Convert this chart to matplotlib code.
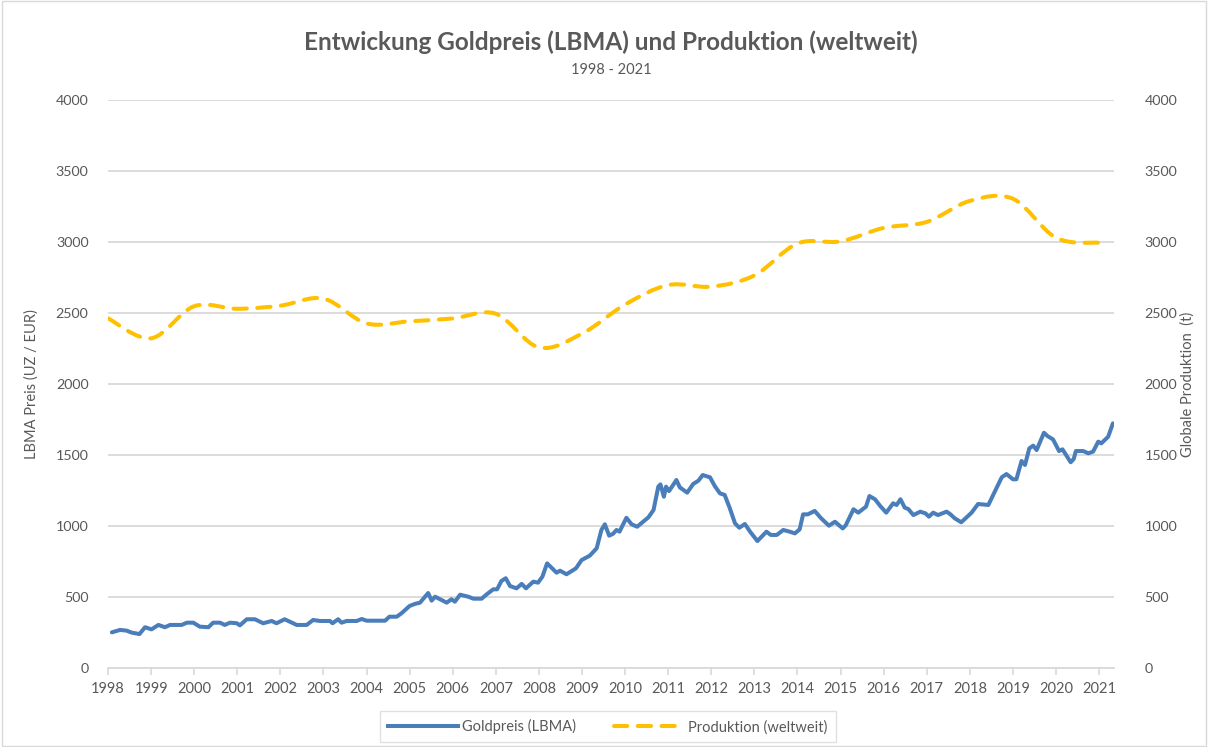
import numpy as np
import matplotlib.pyplot as plt
from matplotlib.path import Path
from matplotlib.patches import PathPatch, Rectangle
from matplotlib.lines import Line2D

plt.rcParams['font.family'] = ['Lato', 'DejaVu Sans']

# Goldpreis (LBMA), EUR je Unze
gold_years = [
    1998.09, 1998.28, 1998.43, 1998.55, 1998.73, 1998.86, 1999.01, 1999.17, 1999.32, 1999.44,
    1999.71, 1999.83, 1999.98, 2000.13, 2000.33, 2000.44, 2000.60, 2000.71, 2000.83, 2000.99,
    2001.06, 2001.22, 2001.41, 2001.60, 2001.80, 2001.91, 2002.10, 2002.38, 2002.61, 2002.76,
    2002.92, 2003.15, 2003.21, 2003.34, 2003.42, 2003.54, 2003.77, 2003.89, 2004.00, 2004.43,
    2004.53, 2004.70, 2004.81, 2005.00, 2005.12, 2005.24, 2005.43, 2005.51, 2005.59, 2005.86,
    2005.97, 2006.05, 2006.17, 2006.36, 2006.48, 2006.67, 2006.79, 2006.94, 2007.03, 2007.13,
    2007.23, 2007.33, 2007.48, 2007.60, 2007.70, 2007.87, 2007.98, 2008.08, 2008.19, 2008.41,
    2008.49, 2008.64, 2008.86, 2008.99, 2009.18, 2009.34, 2009.45, 2009.53, 2009.63, 2009.72,
    2009.80, 2009.87, 2010.03, 2010.15, 2010.28, 2010.38, 2010.54, 2010.66, 2010.77, 2010.82,
    2010.90, 2010.95, 2011.02, 2011.19, 2011.27, 2011.44, 2011.58, 2011.70, 2011.80, 2011.97,
    2012.08, 2012.20, 2012.31, 2012.43, 2012.55, 2012.65, 2012.78, 2012.90, 2013.07, 2013.28,
    2013.38, 2013.52, 2013.67, 2013.82, 2013.94, 2014.05, 2014.13, 2014.24, 2014.40, 2014.55,
    2014.73, 2014.87, 2015.05, 2015.12, 2015.30, 2015.41, 2015.59, 2015.67, 2015.80, 2015.92,
    2016.06, 2016.22, 2016.30, 2016.39, 2016.49, 2016.57, 2016.69, 2016.85, 2016.97, 2017.05,
    2017.15, 2017.26, 2017.46, 2017.55, 2017.65, 2017.80, 2018.04, 2018.19, 2018.43, 2018.54,
    2018.74, 2018.85, 2019.00, 2019.08, 2019.20, 2019.28, 2019.38, 2019.47, 2019.55, 2019.72,
    2019.80, 2019.93, 2020.07, 2020.15, 2020.34, 2020.41, 2020.46, 2020.63, 2020.75, 2020.86,
    2020.98, 2021.05, 2021.21, 2021.32,
]
gold_price = [
    251, 268, 263, 249, 239, 287, 272, 303, 287, 303,
    303, 319, 319, 291, 287, 319, 319, 303, 319, 315,
    300, 343, 343, 315, 331, 315, 343, 303, 303, 338,
    331, 331, 315, 343, 319, 331, 331, 345, 333, 333,
    361, 361, 385, 437, 451, 460, 528, 474, 502, 460,
    484, 467, 516, 502, 488, 488, 519, 554, 554, 613,
    632, 577, 561, 592, 561, 608, 601, 643, 737, 671,
    685, 660, 702, 760, 791, 843, 972, 1012, 932, 945,
    972, 960, 1058, 1012, 995, 1020, 1061, 1113, 1277, 1293,
    1206, 1277, 1246, 1324, 1272, 1235, 1296, 1319, 1359, 1343,
    1282, 1230, 1219, 1125, 1019, 988, 1014, 960, 894, 960,
    937, 937, 972, 960, 948, 976, 1082, 1082, 1106, 1054,
    1002, 1030, 983, 1005, 1118, 1094, 1136, 1211, 1188, 1141,
    1094, 1160, 1148, 1188, 1129, 1120, 1077, 1101, 1089, 1066,
    1094, 1077, 1101, 1082, 1054, 1026, 1094, 1155, 1148, 1218,
    1343, 1366, 1329, 1329, 1458, 1430, 1547, 1566, 1535, 1657,
    1634, 1610, 1528, 1540, 1449, 1472, 1528, 1528, 1512, 1524,
    1594, 1582, 1629, 1723,
]

# Goldproduktion weltweit in Tonnen, jährlich
prod_years = list(range(1998, 2022))
prod_tons = [2463, 2322, 2548, 2530, 2552, 2602, 2427, 2442, 2462, 2495,
             2258, 2355, 2560, 2697, 2686, 2765, 2990, 3005, 3100, 3142,
             3290, 3305, 3030, 2995]

year_ticks = list(range(1998, 2022))
y_ticks = list(range(0, 4001, 500))

text_col = '#595959'
grid_col = '#D9D9D9'
blue = '#4A7EBB'
gold = '#FFC000'
dash = (0, (3.3, 2.6))


def smooth_path(xs, ys):
    # Excel-artige Glättung: Bezier-Segmente durch die Datenpunkte
    n = len(xs)
    verts = [(xs[0], ys[0])]
    codes = [Path.MOVETO]
    for i in range(n - 1):
        a = max(i - 1, 0)
        b = min(i + 2, n - 1)
        c1 = (xs[i] + (xs[i + 1] - xs[a]) / 6, ys[i] + (ys[i + 1] - ys[a]) / 6)
        c2 = (xs[i + 1] - (xs[b] - xs[i]) / 6, ys[i + 1] - (ys[b] - ys[i]) / 6)
        verts += [c1, c2, (xs[i + 1], ys[i + 1])]
        codes += [Path.CURVE4] * 3
    return Path(verts, codes)


fig = plt.figure(figsize=(12.08, 7.47), dpi=100)
ax = fig.add_axes([0.0894, 0.1058, 0.8326, 0.7602])
ax2 = ax.twinx()

ax.plot(gold_years, gold_price, color=blue, lw=2.9, solid_joinstyle='round',
        solid_capstyle='round', zorder=3)

patch = PathPatch(smooth_path(prod_years, prod_tons), fill=False, edgecolor=gold,
                  lw=2.9, linestyle=dash, capstyle='round', zorder=3)
ax2.add_patch(patch)

for a in (ax, ax2):
    a.set_ylim(0, 4000)
    a.set_yticks(y_ticks)
    a.set_xlim(1998, 2021.34)
    for s in a.spines.values():
        s.set_visible(False)
    a.tick_params(axis='y', length=0, labelsize=10.3, labelcolor=text_col, pad=14)

ax.spines['bottom'].set_visible(True)
ax.spines['bottom'].set_color(grid_col)
ax.spines['bottom'].set_linewidth(1.3)
ax.set_xticks(year_ticks)
ax.set_xticklabels([str(y) for y in year_ticks])
ax.tick_params(axis='x', length=5, width=1.2, color=grid_col, labelsize=10.5,
               labelcolor=text_col, pad=5)
ax.grid(axis='y', color=grid_col, lw=1.3)
ax.set_axisbelow(True)
ax2.tick_params(axis='y', pad=22)

ax.set_ylabel('LBMA Preis (UZ / EUR)', fontsize=10.5, color=text_col, labelpad=12)
ax2.set_ylabel('Globale Produktion  (t)', fontsize=10.5, color=text_col, labelpad=2)

fig.text(0.506, 0.944, 'Entwickung Goldpreis (LBMA) und Produktion (weltweit)',
         ha='center', va='center', fontsize=17.5, fontweight='bold', color=text_col)
fig.text(0.506, 0.906, '1998 - 2021', ha='center', va='center', fontsize=10.5,
         color=text_col)

handles = [Line2D([], [], color=blue, lw=2.9),
           Line2D([], [], color=gold, lw=2.9, linestyle=dash, dash_capstyle='round')]
leg = fig.legend(handles, ['Goldpreis (LBMA)', 'Produktion (weltweit)'], ncol=2,
                 loc='center', bbox_to_anchor=(0.503, 0.027), frameon=True,
                 fancybox=False, edgecolor=grid_col, fontsize=10.5,
                 handlelength=4.8, columnspacing=2.6, borderpad=0.55,
                 handletextpad=0.3, borderaxespad=0)
for t in leg.get_texts():
    t.set_color(text_col)

fig.add_artist(Rectangle((0.002, 0.002), 0.996, 0.996, transform=fig.transFigure,
                         fill=False, edgecolor=grid_col, lw=1))

fig.savefig('out.png', dpi=100)
